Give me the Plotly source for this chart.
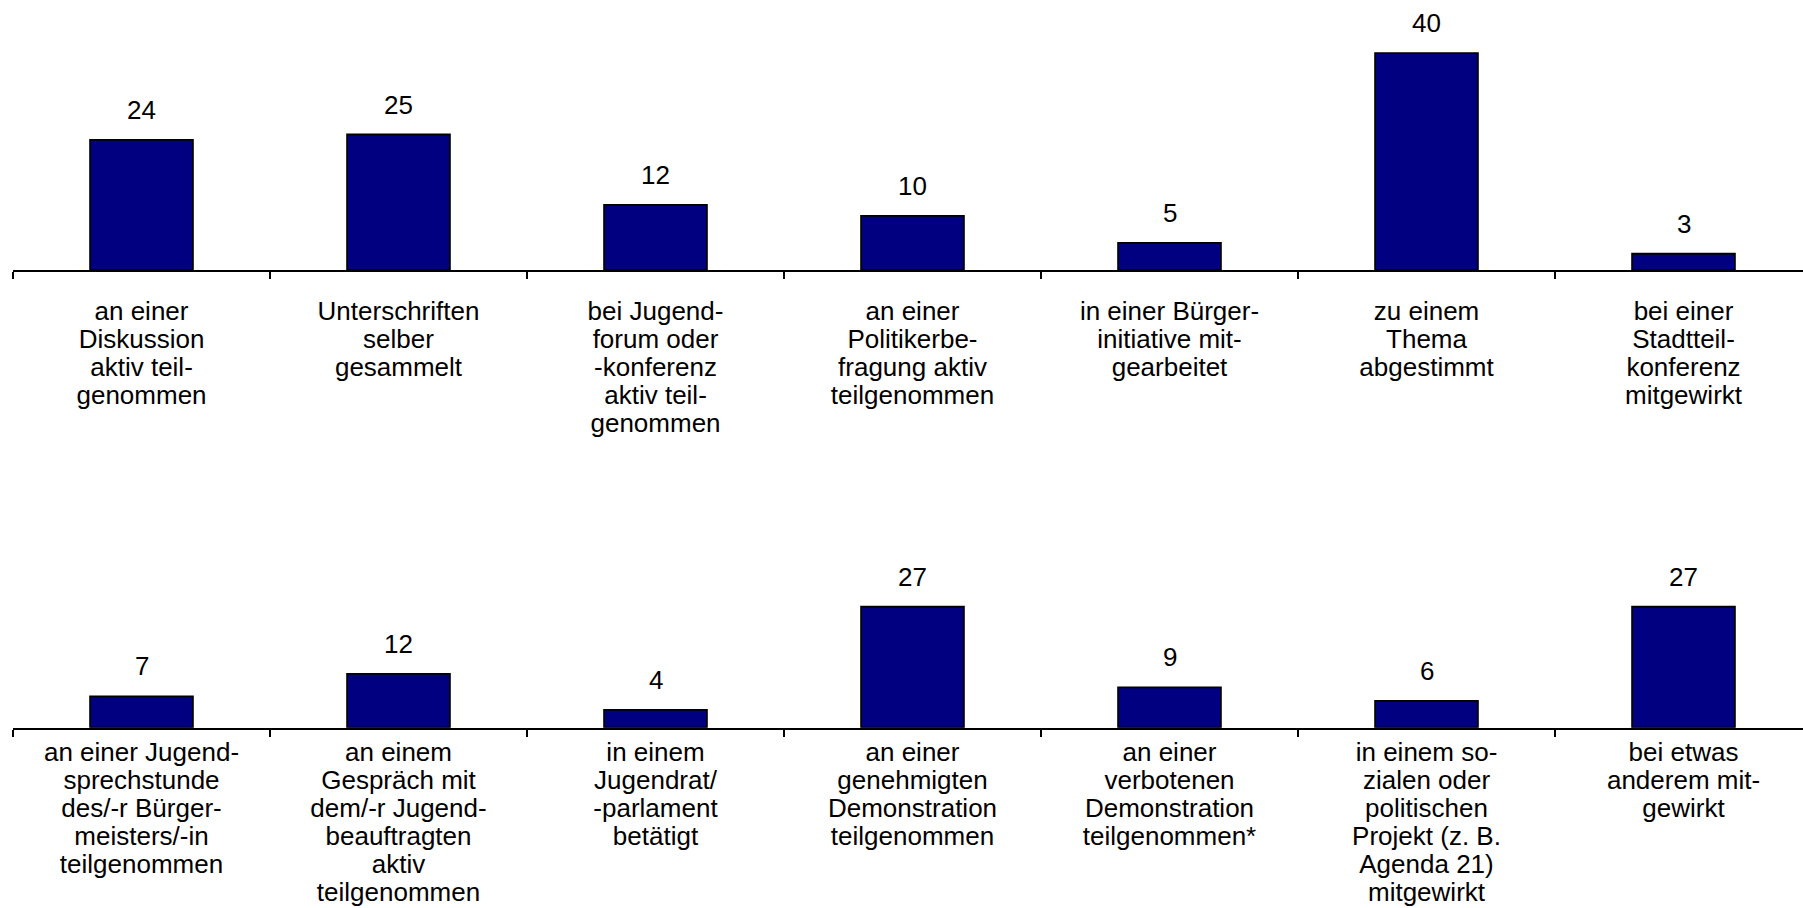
import plotly.graph_objects as go

# ---------------- data ----------------
top_labels = [
    "an einer<br>Diskussion<br>aktiv teil-<br>genommen",
    "Unterschriften<br>selber<br>gesammelt",
    "bei Jugend-<br>forum oder<br>-konferenz<br>aktiv teil-<br>genommen",
    "an einer<br>Politikerbe-<br>fragung aktiv<br>teilgenommen",
    "in einer Bürger-<br>initiative mit-<br>gearbeitet",
    "zu einem<br>Thema<br>abgestimmt",
    "bei einer<br>Stadtteil-<br>konferenz<br>mitgewirkt",
]
top_values = [24, 25, 12, 10, 5, 40, 3]

bottom_labels = [
    "an einer Jugend-<br>sprechstunde<br>des/-r Bürger-<br>meisters/-in<br>teilgenommen",
    "an einem<br>Gespräch mit<br>dem/-r Jugend-<br>beauftragten<br>aktiv<br>teilgenommen",
    "in einem<br>Jugendrat/<br>-parlament<br>betätigt",
    "an einer<br>genehmigten<br>Demonstration<br>teilgenommen",
    "an einer<br>verbotenen<br>Demonstration<br>teilgenommen*",
    "in einem so-<br>zialen oder<br>politischen<br>Projekt (z. B.<br>Agenda 21)<br>mitgewirkt",
    "bei etwas<br>anderem mit-<br>gewirkt",
]
bottom_values = [7, 12, 4, 27, 9, 6, 27]

# ---------------- style ----------------
W, H = 1803, 908
NAVY = "#000080"
FONT = "Liberation Sans, Arial, sans-serif"
TXT = 26          # glyph size
LINE_BASE = 21.6  # base size -> line spacing 1.3*21.6 ~ 28px


def wrap(label):
    return "<br>".join(
        f"<span style='font-size:{TXT}px'>{ln}</span>" for ln in label.split("<br>")
    )


top_cats = [wrap(l) for l in top_labels]
bottom_cats = [wrap(l) for l in bottom_labels]

fig = go.Figure()
bar_style = dict(
    marker=dict(color=NAVY, line=dict(color="black", width=1.8)),
    width=0.4,
    hoverinfo="skip",
    showlegend=False,
)
fig.add_trace(go.Bar(x=top_cats, y=top_values, xaxis="x", yaxis="y", **bar_style))
fig.add_trace(go.Bar(x=bottom_cats, y=bottom_values, xaxis="x2", yaxis="y2", **bar_style))

annotations = []
for cats, vals, xr, yr in [(top_cats, top_values, "x", "y"), (bottom_cats, bottom_values, "x2", "y2")]:
    for c, v in zip(cats, vals):
        annotations.append(dict(
            x=c, y=v, xref=xr, yref=yr, text=str(v), showarrow=False,
            yanchor="middle", yshift=30,
            font=dict(family=FONT, size=TXT, color="black"),
        ))

left = 13 / W
xrange = [-0.5, 6.465]

xaxis_common = dict(
    type="category",
    range=xrange,
    domain=[left, 1],
    automargin=False,
    showline=True, linecolor="black", linewidth=2,
    ticks="outside", ticklen=7, tickwidth=2, tickcolor="black",
    tickson="boundaries",
    showgrid=False, zeroline=False,
    tickfont=dict(family=FONT, size=LINE_BASE, color="black"),
    fixedrange=True,
)

top_zero = 270.0
top_ppu = 5.42
bot_zero = 727.7
bot_ppu = 4.48
bot_top = 460.0

fig.update_layout(
    template="none",
    width=W, height=H,
    margin=dict(l=0, r=0, t=0, b=0, autoexpand=False),
    paper_bgcolor="white", plot_bgcolor="white",
    font=dict(family=FONT, color="black"),
    bargap=0.6,
    xaxis=dict(anchor="y", ticklabelstandoff=22, **xaxis_common),
    xaxis2=dict(anchor="y2", ticklabelstandoff=5, **xaxis_common),
    yaxis=dict(
        domain=[1 - top_zero / H, 1], range=[0, top_zero / top_ppu],
        visible=False, showgrid=False, zeroline=False, fixedrange=True, automargin=False,
    ),
    yaxis2=dict(
        domain=[1 - bot_zero / H, 1 - bot_top / H], range=[0, (bot_zero - bot_top) / bot_ppu],
        visible=False, showgrid=False, zeroline=False, fixedrange=True, automargin=False,
    ),
    annotations=annotations,
)

fig.write_html(
    "out.html",
    config={"displayModeBar": False, "staticPlot": True},
    post_script="document.body.style.margin='0';document.body.style.overflow='hidden';",
)
